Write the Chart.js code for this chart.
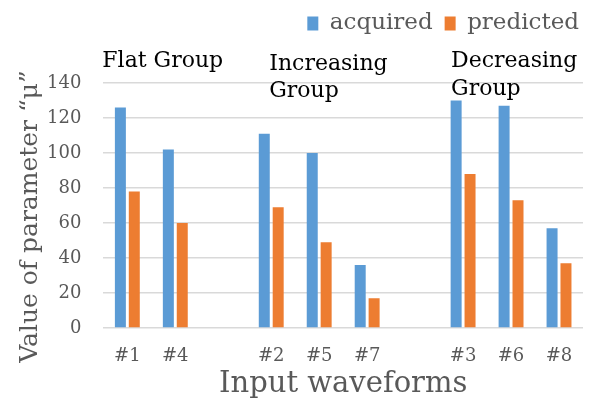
<!DOCTYPE html>
<html>
<head>
<meta charset="utf-8">
<script src="https://cdn.jsdelivr.net/npm/chart.js@4/dist/chart.umd.min.js"></script>
<style>
  html, body { margin: 0; padding: 0; background: #fff; }
  #wrap { width: 598px; height: 412px; }
</style>
</head>
<body>
<div id="wrap"><canvas id="waveChart" width="598" height="412"></canvas></div>
<script>
// Data (empty slots separate the groups)
const waveforms = ['#1', '#4', '', '#2', '#5', '#7', '', '#3', '#6', '#8'];
const acquired = [126, 102, null, 111, 100, 36, null, 130, 127, 57];
const predicted = [78, 60, null, 69, 49, 17, null, 88, 73, 37];
const yTicks = [0, 20, 40, 60, 80, 100, 120, 140];
const yTitle = 'Value of parameter \u201c\u03bc\u201d';

const serif = 'DejaVu Serif';
const grey = '#595959';

// Group captions and the y axis title, drawn on top of the chart
const extraText = {
  id: 'extraText',
  afterDraw(chart) {
    const { ctx, chartArea } = chart;
    const x = chart.scales.x;
    const half = (x.getPixelForValue(1) - x.getPixelForValue(0)) / 2;
    ctx.save();
    ctx.font = '22px "' + serif + '"';
    ctx.fillStyle = '#000';
    ctx.textAlign = 'left';
    ctx.textBaseline = 'alphabetic';
    ctx.fillText('Flat Group', x.getPixelForValue(0) - half - 1, 67);
    ctx.fillText('Increasing', x.getPixelForValue(3) - half + 22, 70);
    ctx.fillText('Group', x.getPixelForValue(3) - half + 22, 97);
    ctx.fillText('Decreasing', x.getPixelForValue(7) - half + 12, 67);
    ctx.fillText('Group', x.getPixelForValue(7) - half + 12, 95);

    // rotated y title, a little below the middle of the plot
    ctx.translate(30, (chartArea.top + chartArea.bottom) / 2 + 11);
    ctx.rotate(-Math.PI / 2);
    ctx.font = '25px "' + serif + '"';
    ctx.fillStyle = grey;
    ctx.textAlign = 'center';
    ctx.textBaseline = 'middle';
    ctx.fillText(yTitle, 0, 0);
    ctx.restore();
  }
};

// Leave room under the legend for the group captions
const legendRoom = {
  id: 'legendRoom',
  beforeInit(chart) {
    const fit = chart.legend.fit;
    chart.legend.fit = function () {
      fit.bind(chart.legend)();
      this.height = 83;
    };
  },
  afterLayout(chart) {
    chart.legend.left += 8;
    chart.legend.right += 8;
  }
};

const ctx = document.getElementById('waveChart').getContext('2d');

const waveChart = new Chart(ctx, {
  type: 'bar',
  data: {
    labels: waveforms,
    datasets: [
      {
        label: 'acquired',
        data: acquired,
        backgroundColor: '#5b9bd5',
        borderWidth: 0
      },
      {
        label: 'predicted',
        data: predicted,
        backgroundColor: '#ed7d31',
        borderWidth: 0
      }
    ]
  },
  options: {
    responsive: false,
    animation: false,
    categoryPercentage: 0.58,
    barPercentage: 0.79,
    layout: { padding: { left: 25, right: 15, top: 0, bottom: 0 } },
    plugins: {
      legend: {
        position: 'top',
        align: 'end',
        labels: {
          font: { family: serif, size: 23 },
          color: grey,
          boxWidth: 11,
          boxHeight: 14,
          padding: 12
        }
      },
      tooltip: { enabled: false }
    },
    scales: {
      x: {
        afterFit(axis) { axis.height = 84; },
        grid: { display: false, drawTicks: false },
        border: { display: false },
        ticks: { font: { family: serif, size: 18 }, color: grey, padding: 18, maxRotation: 0 },
        title: {
          display: true,
          text: 'Input waveforms',
          font: { family: serif, size: 29 },
          color: grey,
          padding: { top: 10, bottom: 10 }
        }
      },
      y: {
        min: 0,
        max: 140,
        afterBuildTicks(axis) {
          axis.ticks = yTicks.map(v => ({ value: v }));
        },
        grid: { color: '#d9d9d9', lineWidth: 1.5, drawTicks: false },
        border: { display: false },
        ticks: { font: { family: serif, size: 18 }, color: grey, padding: 22 }
      }
    }
  },
  plugins: [extraText, legendRoom]
});
</script>
</body>
</html>
